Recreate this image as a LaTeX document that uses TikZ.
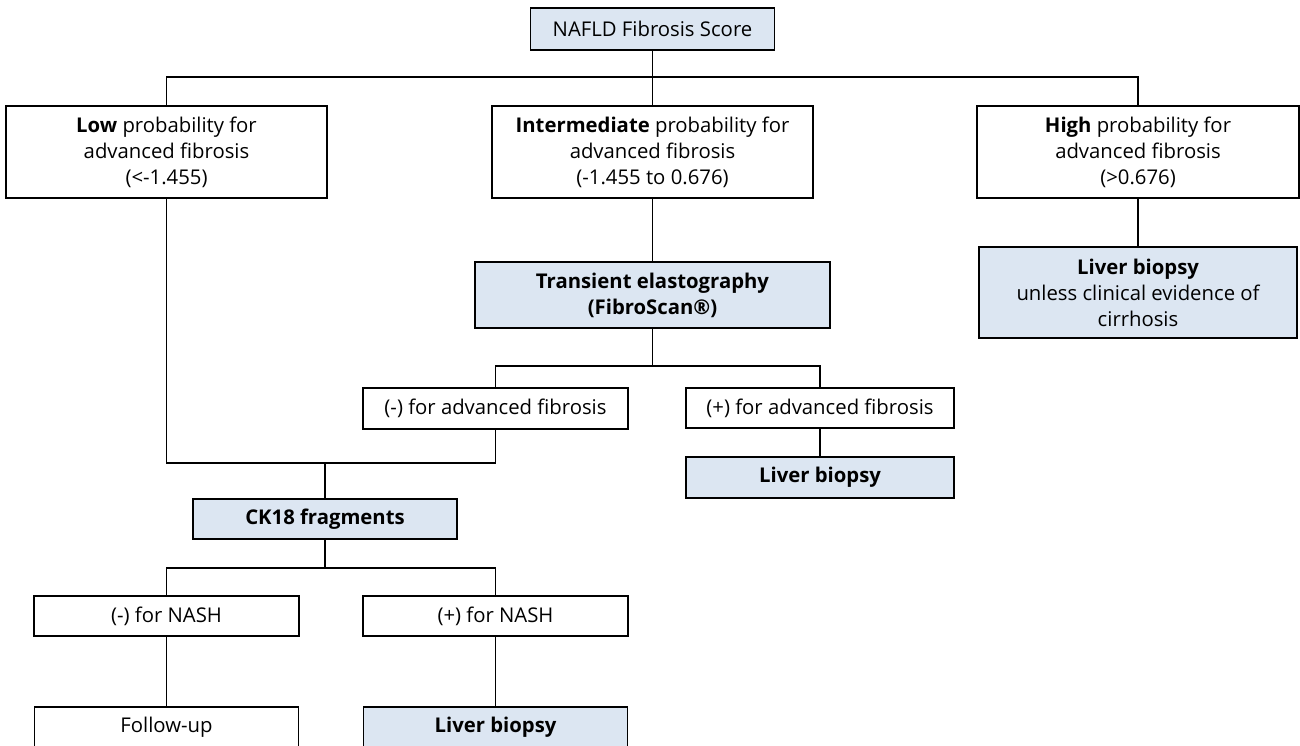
\documentclass[tikz,border=0pt]{standalone}
\usepackage{fontspec}
\setmainfont{Open Sans}
\definecolor{boxblue}{RGB}{220,230,242}
\begin{document}
\begin{tikzpicture}[x=1pt,y=-1pt,
  every node/.style={font=\fontsize{20.3}{26}\selectfont},
  wbox/.style={draw=black, line width=1.5pt, fill=white, inner sep=0pt, align=center},
  bbox/.style={wbox, fill=boxblue},
  conn/.style={line width=1.5pt, draw=black}]
\useasboundingbox (0,0) rectangle (1300,745);
\clip (0,0) rectangle (1300,745);
\fill[white] (0,0) rectangle (1300,745);

\node[bbox, minimum width=244pt, minimum height=42pt] (nafld) at (652.5,29) {NAFLD Fibrosis Score};

\node[wbox, minimum width=321pt, minimum height=92pt] (low) at (166.5,152)
  {\textbf{Low} probability for\\advanced fibrosis\\(<-1.455)};
\node[wbox, minimum width=321pt, minimum height=92pt] (inter) at (652.5,152)
  {\textbf{Intermediate} probability for\\advanced fibrosis\\(-1.455 to 0.676)};
\node[wbox, minimum width=322pt, minimum height=92pt] (high) at (1138,152)
  {\textbf{High} probability for\\advanced fibrosis\\(>0.676)};

\node[bbox, minimum width=318pt, minimum height=91pt] (lbh) at (1138,292.5)
  {\textbf{Liver biopsy}\\unless clinical evidence of\\cirrhosis};

\node[bbox, minimum width=355pt, minimum height=66pt] (trans) at (652.5,295)
  {\textbf{Transient elastography}\\\textbf{(FibroScan®)}};

\node[wbox, minimum width=265pt, minimum height=41pt] (negadv) at (495.5,408.5) {(-) for advanced fibrosis};
\node[wbox, minimum width=268pt, minimum height=40pt] (posadv) at (820,408) {(+) for advanced fibrosis};
\node[bbox, minimum width=268pt, minimum height=41pt] (lb2) at (820,477.5) {\textbf{Liver biopsy}};

\node[bbox, minimum width=264pt, minimum height=40pt] (ck18) at (325,519) {\textbf{CK18 fragments}};

\node[wbox, minimum width=265pt, minimum height=40pt] (negnash) at (166.5,616) {(-) for NASH};
\node[wbox, minimum width=265pt, minimum height=40pt] (posnash) at (495.5,616) {(+) for NASH};

\node[wbox, minimum width=264pt, minimum height=41pt] (follow) at (166.5,727.5) {Follow-up};
\node[bbox, minimum width=264pt, minimum height=41pt] (lb3) at (495.5,727.5) {\textbf{Liver biopsy}};

\coordinate (j1) at (652.5,77);
\coordinate (j2) at (652.5,366);
\coordinate (j3) at (325,463);
\coordinate (j4) at (325,568);

\draw[conn] (nafld.south) -- (inter.north);
\draw[conn] (low.north) |- (j1) -| (high.north);
\draw[conn] (high.south) -- (lbh.north);
\draw[conn] (inter.south) -- (trans.north);
\draw[conn] (trans.south) -- (j2);
\draw[conn] (negadv.north) |- (j2) -| (posadv.north);
\draw[conn] (posadv.south) -- (lb2.north);
\draw[conn] (low.south) |- (j3) -| (negadv.south);
\draw[conn] (j3) -- (ck18.north);
\draw[conn] (ck18.south) -- (j4);
\draw[conn] (negnash.north) |- (j4) -| (posnash.north);
\draw[conn] (negnash.south) -- (follow.north);
\draw[conn] (posnash.south) -- (lb3.north);
\end{tikzpicture}
\end{document}
